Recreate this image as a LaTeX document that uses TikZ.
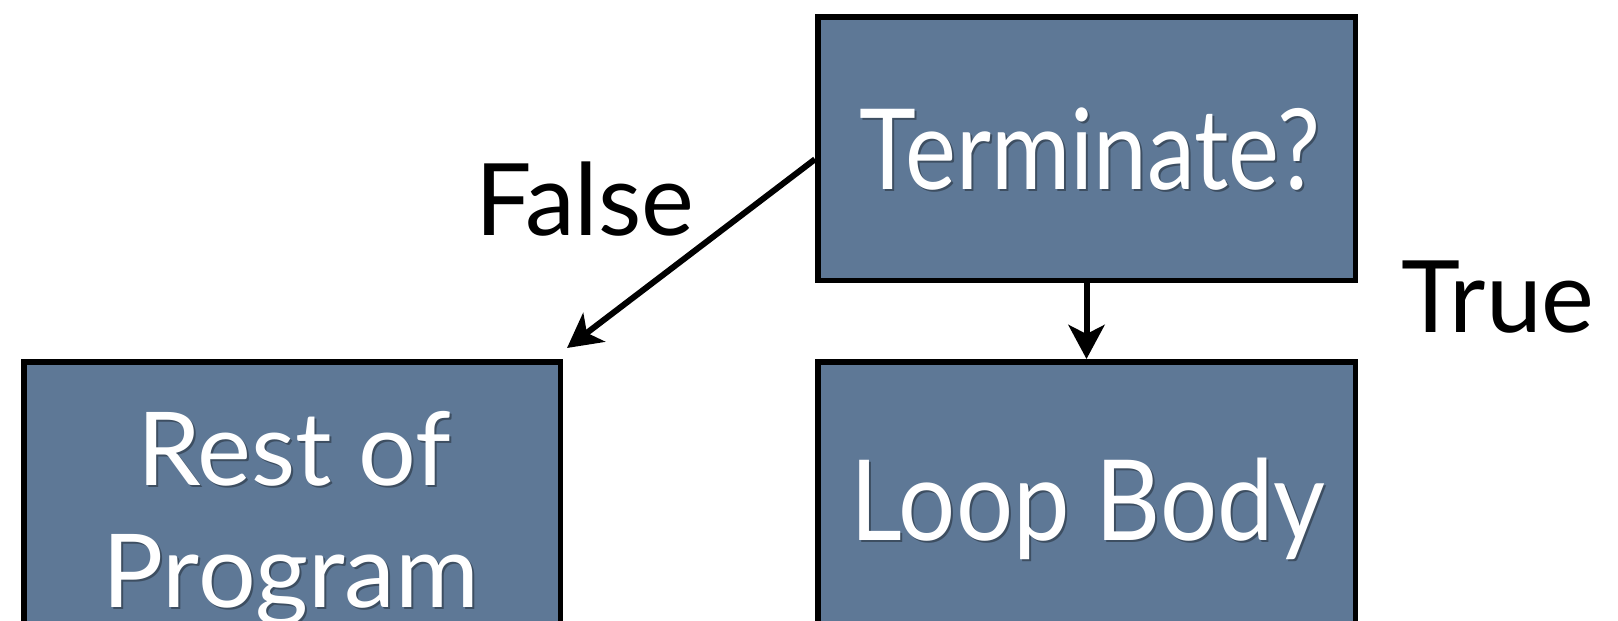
\documentclass[tikz,border=0pt]{standalone}
\usepackage{fontspec}
\setmainfont{Lato}
\usetikzlibrary{arrows.meta,calc}
\definecolor{boxblue}{RGB}{94,120,150}
\begin{document}
\begin{tikzpicture}[x=0.5pt,y=-0.5pt,
  box/.style={draw=black,line width=2.75pt,fill=boxblue,inner sep=0pt,minimum width=268.75pt,minimum height=131.75pt},
  boxtext/.style={text=white,anchor=base,inner sep=0pt,font=\fontsize{56}{60}\selectfont},
  shadowtext/.style={text=black,opacity=0.35,anchor=base,inner sep=0pt,font=\fontsize{56}{60}\selectfont},
  lbl/.style={text=black,anchor=base,inner sep=0pt,font=\fontsize{50}{60}\selectfont},
  conn/.style={line width=3pt,-{Stealth[length=17pt,width=18pt,inset=4.5pt]}}]
\useasboundingbox (0,0) rectangle (1618,621);
\clip (0,0) rectangle (1618,621);
\node[box] (T) at (1086.5,148.5) {};
\node[box,minimum height=149.75pt] (L) at (1086.5,511.5) {};
\node[box,minimum width=268.25pt,minimum height=149.75pt] (R) at (292,511.5) {};
% text shadows
\node[shadowtext] (Ts) at (1092,191) {\scalebox{0.86}[1]{Terminate?}};
\node[shadowtext] (Ls) at (1090,542) {\scalebox{0.9}[1]{Loop Body}};
\node[shadowtext,font=\fontsize{51}{60}\selectfont] (R1s) at (296,487) {Rest of};
\node[shadowtext,font=\fontsize{51}{60}\selectfont] (R2s) at (293,609) {Program};
% texts
\node[boxtext] (Tt) at (1090,189) {\scalebox{0.86}[1]{Terminate?}};
\node[boxtext] (Lt) at (1088,540) {\scalebox{0.9}[1]{Loop Body}};
\node[boxtext,font=\fontsize{51}{60}\selectfont] (R1) at (294,485) {Rest of};
\node[boxtext,font=\fontsize{51}{60}\selectfont] (R2) at (291,607) {Program};
\node[lbl] (F) at (585,235) {False};
\node[lbl] (Tr) at (1498,332) {True};
% connectors
\coordinate (fs) at ($(T.north west)!0.54!(T.south west)$);
\coordinate (fe) at ($(R.north east)+(4,-11)$);
\draw[conn] (fs) -- (fe);
\draw[conn] (T.south) -- (L.north);
\end{tikzpicture}
\end{document}
